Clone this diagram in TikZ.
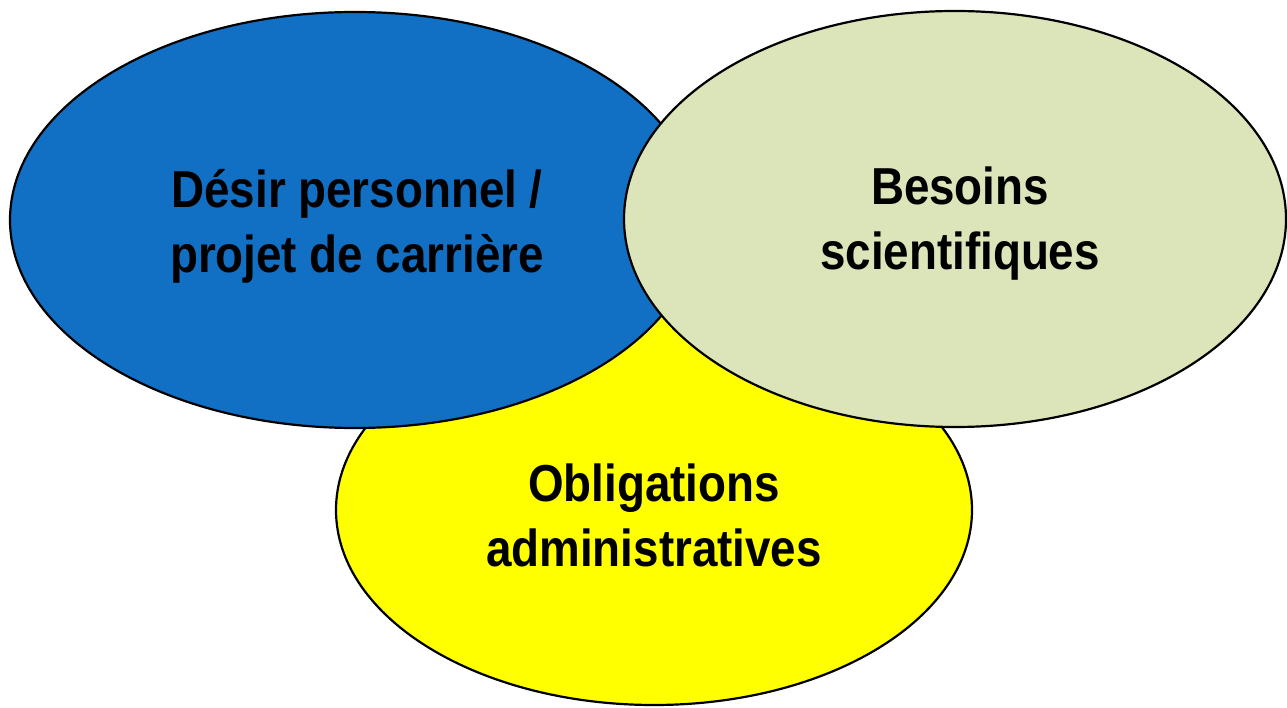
\documentclass[tikz,border=0pt]{standalone}
\usepackage{fontspec}
\setmainfont{Liberation Sans}[FakeStretch=0.88]
\definecolor{bblue}{RGB}{17,112,196}
\definecolor{lgreen}{RGB}{219,229,185}
\definecolor{yyellow}{RGB}{255,255,0}
\begin{document}
\begin{tikzpicture}[x=1pt,y=-1pt,
  ell/.style={draw=black,line width=2.2pt},
  lbl/.style={align=center,font=\fontsize{52}{65}\selectfont\bfseries,text=black,inner sep=0pt}]
\useasboundingbox (0,0) rectangle (1287,708);
\path[ell,fill=yyellow] (654,510) ellipse [x radius=318, y radius=195];
\path[ell,fill=bblue] (355,220) ellipse [x radius=345, y radius=208];
\path[ell,fill=lgreen] (955,219) ellipse [x radius=331, y radius=208];
\node[lbl] (blue) at (357,226) {Désir personnel /\\projet de carrière};
\node[lbl] (green) at (960,224) {Besoins\\scientifiques};
\node[lbl] (yellow) at (654,515) {Obligations\\administratives};
\end{tikzpicture}
\end{document}
